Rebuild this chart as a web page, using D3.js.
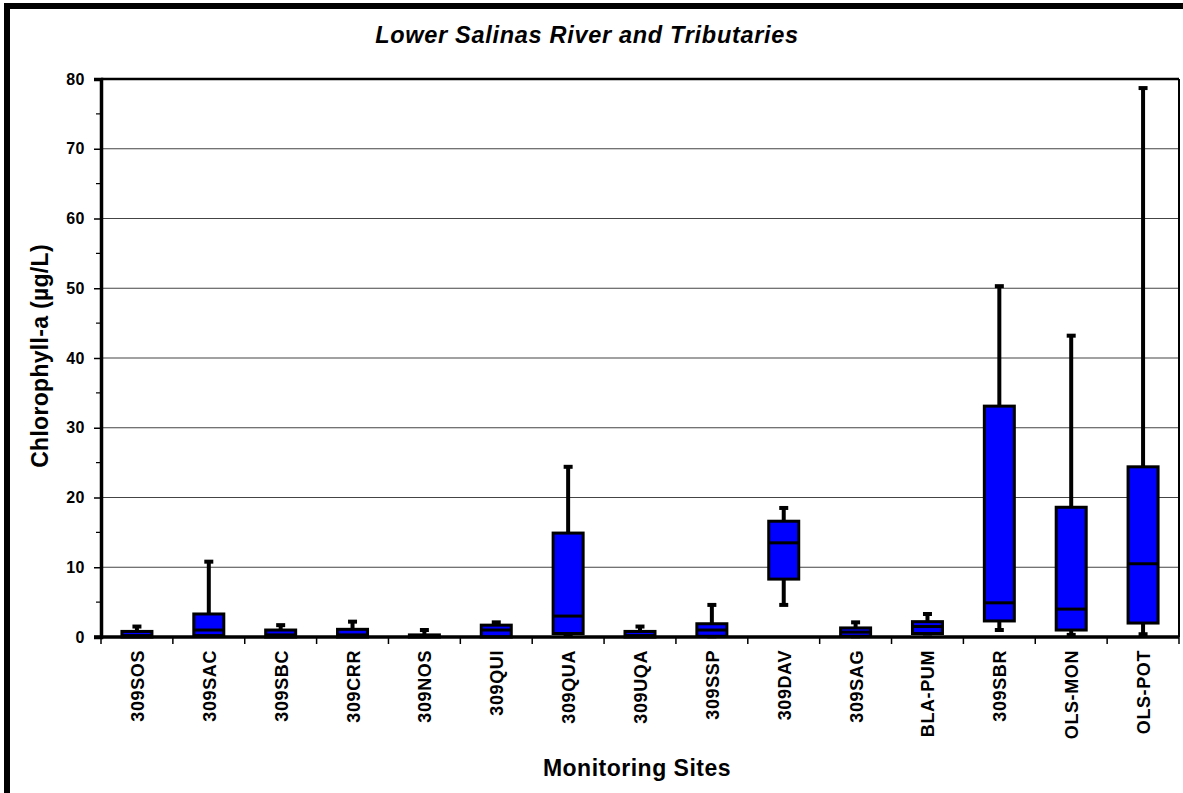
<!DOCTYPE html>
<html>
<head>
<meta charset="utf-8">
<script src="https://cdn.jsdelivr.net/npm/d3@7"></script>
<style>
  html, body { margin: 0; padding: 0; background: #fff; }
  svg { display: block; font-family: "Liberation Sans", Arial, sans-serif; }
</style>
</head>
<body>
<svg id="chart" width="1183" height="793"></svg>
<script>
// Monitoring sites, in plotting order
const sites = ["309SOS","309SAC","309SBC","309CRR","309NOS","309QUI","309QUA","309UQA",
               "309SSP","309DAV","309SAG","BLA-PUM","309SBR","OLS-MON","OLS-POT"];
// Box-plot statistics for chlorophyll-a (µg/L)
const minVals    = [0.0, 0.0, 0.0, 0.0, 0.0, 0.0, 0.3, 0.0, 0.1, 4.6, 0.1, 0.5, 1.0, 0.3, 0.4];
const q1Vals     = [0.0, 0.2, 0.0, 0.0, 0.0, 0.0, 0.5, 0.0, 0.1, 8.3, 0.1, 0.5, 2.3, 1.0, 2.0];
const medianVals = [0.2, 1.0, 0.3, 0.3, 0.1, 1.0, 3.0, 0.2, 1.0, 13.5, 0.7, 1.5, 4.9, 4.0, 10.5];
const q3Vals     = [0.8, 3.3, 1.0, 1.1, 0.3, 1.7, 14.9, 0.8, 1.9, 16.6, 1.3, 2.2, 33.1, 18.6, 24.4];
const maxVals    = [1.5, 10.8, 1.7, 2.2, 1.0, 2.1, 24.4, 1.5, 4.6, 18.5, 2.1, 3.3, 50.3, 43.2, 78.7];
// Axis ticks
const yMajorTicks = [0, 10, 20, 30, 40, 50, 60, 70, 80];
const yMinorTicks = [5, 15, 25, 35, 45, 55, 65, 75];

const data = sites.map((s, i) => ({
  site: s, min: minVals[i], q1: q1Vals[i], median: medianVals[i], q3: q3Vals[i], max: maxVals[i]
}));

const svg = d3.select("#chart");
const plot = { left: 101, right: 1179, top: 79, bottom: 637 };

const x = d3.scaleBand().domain(sites).range([plot.left, plot.right]).padding(0);
const y = d3.scaleLinear().domain([0, 80]).range([plot.bottom, plot.top]);

// Outer figure frame (top and left edges)
svg.append("line").attr("x1", 4).attr("x2", 1183).attr("y1", 6).attr("y2", 6)
  .attr("stroke", "#000").attr("stroke-width", 6);
svg.append("line").attr("x1", 7).attr("x2", 7).attr("y1", 3).attr("y2", 793)
  .attr("stroke", "#000").attr("stroke-width", 6);

// Title
svg.append("text").attr("x", 587).attr("y", 43).attr("text-anchor", "middle")
  .attr("font-size", 23.5).attr("font-weight", "bold").attr("font-style", "italic")
  .attr("letter-spacing", 0.7)
  .text("Lower Salinas River and Tributaries");

// Horizontal gridlines
svg.append("g").selectAll("line").data(yMajorTicks.filter(d => d > 0 && d < 80)).join("line")
  .attr("x1", plot.left).attr("x2", plot.right)
  .attr("y1", d => y(d)).attr("y2", d => y(d))
  .attr("stroke", "#444").attr("stroke-width", 1.2);

// Plot frame: thin top and right edges
svg.append("line").attr("x1", plot.left).attr("x2", plot.right).attr("y1", plot.top).attr("y2", plot.top)
  .attr("stroke", "#000").attr("stroke-width", 2.5);
svg.append("line").attr("x1", plot.right).attr("x2", plot.right).attr("y1", plot.top).attr("y2", plot.bottom)
  .attr("stroke", "#000").attr("stroke-width", 2);

// Y axis
const yAxis = d3.axisLeft(y).tickValues(yMajorTicks).tickSize(7).tickPadding(9).tickFormat(d3.format("d"));
const gy = svg.append("g").attr("transform", `translate(${plot.left},0)`).call(yAxis);
gy.select(".domain").attr("stroke-width", 3.5);
gy.selectAll(".tick line").attr("stroke-width", 1.5);
gy.selectAll(".tick text").attr("font-size", 16).attr("font-weight", "bold")
  .attr("letter-spacing", 0.5)
  .attr("font-family", "Liberation Sans, Arial, sans-serif").attr("fill", "#000");
svg.append("g").selectAll("line").data(yMinorTicks).join("line")
  .attr("x1", plot.left - 5).attr("x2", plot.left)
  .attr("y1", d => y(d)).attr("y2", d => y(d))
  .attr("stroke", "#000").attr("stroke-width", 1.2);

// Y axis title
svg.append("text")
  .attr("transform", `translate(48,${(plot.top + plot.bottom) / 2 - 2}) rotate(-90)`)
  .attr("text-anchor", "middle").attr("font-size", 23).attr("font-weight", "bold")
  .attr("letter-spacing", 0.3)
  .text("Chlorophyll-a (µg/L)");

// X axis: ticks on category boundaries, labels at band centres
const boundaries = sites.map(s => x(s)).concat([plot.right]);
svg.append("g").selectAll("line").data(boundaries).join("line")
  .attr("x1", d => d).attr("x2", d => d)
  .attr("y1", plot.bottom).attr("y2", plot.bottom + 7)
  .attr("stroke", "#000").attr("stroke-width", 1.5);

svg.append("g").selectAll("text").data(sites).join("text")
  .attr("transform", d => `translate(${x(d) + x.bandwidth() / 2 + 7},${plot.bottom + 13}) rotate(-90)`)
  .attr("text-anchor", "end").attr("font-size", 18).attr("font-weight", "bold")
  .attr("letter-spacing", 0.6)
  .text(d => d);

// X axis title
svg.append("text").attr("x", 637).attr("y", 776).attr("text-anchor", "middle")
  .attr("font-size", 23).attr("font-weight", "bold").attr("letter-spacing", 0.5)
  .text("Monitoring Sites");

// Box plots
const boxW = 30, capW = 9;
const g = svg.append("g").selectAll("g").data(data).join("g")
  .attr("transform", d => `translate(${x(d.site) + x.bandwidth() / 2},0)`);

// Whiskers
g.append("line").attr("x1", 0).attr("x2", 0)
  .attr("y1", d => y(d.q3)).attr("y2", d => y(d.max))
  .attr("stroke", "#000").attr("stroke-width", 4);
g.append("line").attr("x1", 0).attr("x2", 0)
  .attr("y1", d => y(d.q1)).attr("y2", d => y(d.min))
  .attr("stroke", "#000").attr("stroke-width", 4);
// Whisker caps
g.append("line").attr("x1", -capW / 2).attr("x2", capW / 2)
  .attr("y1", d => y(d.max)).attr("y2", d => y(d.max))
  .attr("stroke", "#000").attr("stroke-width", 4);
g.filter(d => d.min > 0).append("line").attr("x1", -capW / 2).attr("x2", capW / 2)
  .attr("y1", d => y(d.min)).attr("y2", d => y(d.min))
  .attr("stroke", "#000").attr("stroke-width", 4);

// Boxes
g.append("rect").attr("x", -boxW / 2).attr("width", boxW)
  .attr("y", d => y(d.q3)).attr("height", d => Math.max(0, y(d.q1) - y(d.q3)))
  .attr("fill", "#0000ff").attr("stroke", "#000").attr("stroke-width", 3);

// Medians
g.append("line").attr("x1", -boxW / 2).attr("x2", boxW / 2)
  .attr("y1", d => y(d.median)).attr("y2", d => y(d.median))
  .attr("stroke", "#000").attr("stroke-width", 3);

// X axis baseline drawn over the box bottoms
svg.append("line").attr("x1", plot.left - 7).attr("x2", plot.right)
  .attr("y1", plot.bottom).attr("y2", plot.bottom)
  .attr("stroke", "#000").attr("stroke-width", 3.5);
</script>
</body>
</html>
